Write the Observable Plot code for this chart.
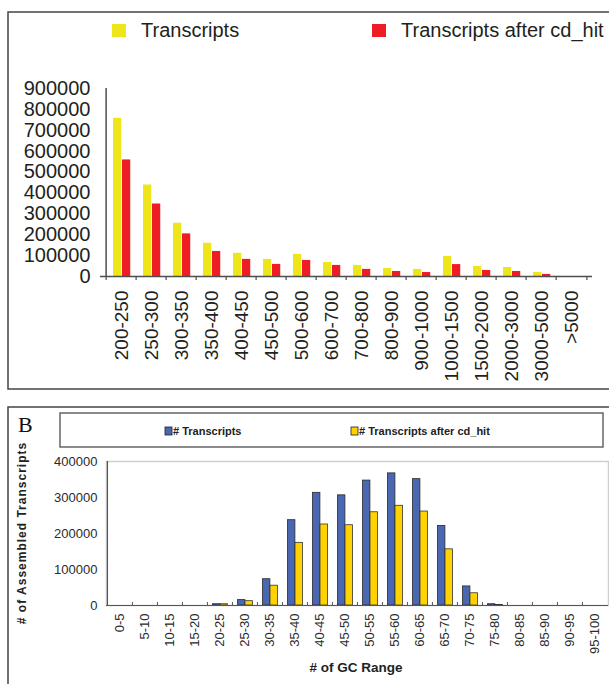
<!DOCTYPE html>
<html><head><meta charset="utf-8">
<script src="https://cdn.jsdelivr.net/npm/d3@7"></script>
<script src="https://cdn.jsdelivr.net/npm/@observablehq/plot@0.6"></script>
<style>
html,body{margin:0;padding:0;background:#fff;}
#page{position:relative;width:609px;height:684px;overflow:hidden;font-family:"Liberation Sans",Arial,sans-serif;}
#page > svg{position:absolute;left:0;}
</style></head><body><div id="page"></div>
<script>
// ---------- Data: panel A (transcript length distribution) ----------
const lengthRanges = ["200-250","250-300","300-350","350-400","400-450","450-500","500-600","600-700","700-800","800-900","900-1000","1000-1500","1500-2000","2000-3000","3000-5000",">5000"];
const transcriptsA = [757000, 438000, 255000, 159000, 111000, 82000, 106000, 67000, 53000, 38000, 34000, 96000, 48000, 43000, 19000, 0];
const cdhitA = [558000, 347000, 204000, 120000, 82000, 58000, 77000, 53000, 34000, 24000, 19000, 57000, 29000, 24000, 10000, 0];
const yTicksA = [0, 100000, 200000, 300000, 400000, 500000, 600000, 700000, 800000, 900000];

// ---------- Data: panel B (GC content distribution) ----------
const gcRanges = ["0-5","5-10","10-15","15-20","20-25","25-30","30-35","35-40","40-45","45-50","50-55","55-60","60-65","65-70","70-75","75-80","80-85","85-90","90-95","95-100"];
const transcriptsB = [0, 0, 0, 0, 3500, 15000, 73000, 237000, 313000, 306000, 347000, 367000, 351000, 221000, 53000, 3500, 0, 0, 0, 0];
const cdhitB = [0, 0, 0, 0, 3500, 12000, 55000, 174000, 225000, 223000, 259000, 277000, 261000, 156000, 34000, 1500, 0, 0, 0, 0];
const yTicksB = [0, 100000, 200000, 300000, 400000];

const page = document.getElementById("page");
const fmt = d3.format("d");

// ---------- Panel A ----------
const wA = 609, hA = 390, mlA = 100, mrA = 17, mtA = 88, mbA = 114;
const bandA = (wA - mlA - mrA) / lengthRanges.length;
const rowsA = lengthRanges.map((r, i) => ({range: r, t: transcriptsA[i], c: cdhitA[i]}));
const axisColA = "#4d4d4d";
const plotA = Plot.plot({
  width: wA, height: hA,
  marginLeft: mlA, marginRight: mrA, marginTop: mtA, marginBottom: mbA,
  style: {fontFamily: "'Liberation Sans', Arial, sans-serif", color: "#231F20", background: "transparent", overflow: "visible"},
  x: {type: "band", domain: lengthRanges, padding: 0},
  y: {domain: [0, 900000]},
  marks: [
    Plot.barY(rowsA, {x: "range", y: "t", fill: "#EEE61A", insetLeft: 7, insetRight: bandA - 16}),
    Plot.barY(rowsA, {x: "range", y: "c", fill: "#EE1C25", insetLeft: 16, insetRight: bandA - 25}),
    Plot.ruleY([0], {stroke: axisColA, strokeWidth: 1.5}),
    Plot.ruleX([lengthRanges[0]], {x: d => d, dx: -bandA / 2, y1: 0, y2: 900000, stroke: axisColA, strokeWidth: 1.5}),
    Plot.ruleX(lengthRanges, {x: d => d, dx: -bandA / 2, y1: 0, y2: 0, insetBottom: -4, stroke: axisColA, strokeWidth: 1.2}),
    Plot.ruleX([lengthRanges[lengthRanges.length - 1]], {x: d => d, dx: bandA / 2, y1: 0, y2: 0, insetBottom: -4, stroke: axisColA, strokeWidth: 1.2}),
    Plot.ruleY(yTicksA, {y: d => d, x1: lengthRanges[0], x2: lengthRanges[0], insetLeft: -4, insetRight: bandA, stroke: axisColA, strokeWidth: 1.2}),
    Plot.axisY({ticks: yTicksA, tickSize: 0, tickPadding: 10, tickFormat: fmt, fontSize: 20}),
    Plot.axisX({tickSize: 0, tickPadding: 14, tickRotate: -90, fontSize: 19})
  ]
});
plotA.style.top = "0px";
page.appendChild(plotA);

// ---------- Panel B ----------
const topB = 400;
const wB = 609, hB = 284, mlB = 106, mrB = 1, mtB = 61, mbB = 79;
const bandB = (wB - mlB - mrB) / gcRanges.length;
const rowsB = gcRanges.map((r, i) => ({range: r, t: transcriptsB[i], c: cdhitB[i]}));
const axisColB = "#555";
const plotB = Plot.plot({
  width: wB, height: hB,
  marginLeft: mlB, marginRight: mrB, marginTop: mtB, marginBottom: mbB,
  style: {fontFamily: "'Liberation Sans', Arial, sans-serif", color: "#2a2a2a", background: "transparent", overflow: "visible"},
  x: {type: "band", domain: gcRanges, padding: 0},
  y: {domain: [0, 400000]},
  marks: [
    Plot.frame({stroke: "#cfcfcf", strokeWidth: 1.5}),
    Plot.barY(rowsB, {x: "range", y: "t", fill: "#4A67B1", stroke: "#2a2a2a", strokeWidth: 0.8, insetLeft: 5.5, insetRight: bandB - 13}),
    Plot.barY(rowsB, {x: "range", y: "c", fill: "#FFD200", stroke: "#333", strokeWidth: 0.8, insetLeft: 13, insetRight: bandB - 20.5}),
    Plot.ruleY([0], {stroke: axisColB, strokeWidth: 1.2}),
    Plot.ruleX([gcRanges[0]], {x: d => d, dx: -bandB / 2, y1: 0, y2: 400000, stroke: axisColB, strokeWidth: 1.2}),
    Plot.ruleX(gcRanges.slice(1), {x: d => d, dx: -bandB / 2, y1: 0, y2: 0, insetTop: -3, stroke: axisColB}),
    Plot.ruleY(yTicksB.slice(1), {y: d => d, x1: gcRanges[0], x2: gcRanges[0], insetRight: bandB - 3, stroke: axisColB}),
    Plot.axisY({ticks: yTicksB, tickSize: 0, tickPadding: 9, tickFormat: fmt, fontSize: 13}),
    Plot.axisX({tickSize: 0, tickPadding: 8, tickRotate: -90, fontSize: 13})
  ]
});
plotB.style.top = topB + "px";
page.appendChild(plotB);

// ---------- Overlay: panel borders, legends, titles ----------
const ov = d3.select(page).append("svg")
  .attr("width", 609).attr("height", 684)
  .style("top", "0px").style("pointer-events", "none")
  .style("font-family", "'Liberation Sans', Arial, sans-serif");

ov.append("rect").attr("x", 8).attr("y", 12).attr("width", 720).attr("height", 377)
  .attr("fill", "none").attr("stroke", "#444").attr("stroke-width", 1.5);
ov.append("rect").attr("x", 8).attr("y", 407).attr("width", 720).attr("height", 400)
  .attr("fill", "none").attr("stroke", "#444").attr("stroke-width", 1.5);

// legend A
const legA = [
  {label: "Transcripts", color: "#EEE61A", x: 112},
  {label: "Transcripts after cd_hit", color: "#EE1C25", x: 372}
];
legA.forEach(d => {
  ov.append("rect").attr("x", d.x).attr("y", 24).attr("width", 14).attr("height", 13).attr("fill", d.color);
  ov.append("text").attr("x", d.x + 29).attr("y", 37).attr("font-size", 20).attr("fill", "#231F20").text(d.label);
});

// panel B letter
ov.append("text").attr("x", 18).attr("y", 432).attr("font-family", "'Liberation Serif', 'Times New Roman', serif")
  .attr("font-size", 22).attr("fill", "#111").text("B");

// legend B
ov.append("rect").attr("x", 60).attr("y", 413).attr("width", 543).attr("height", 34)
  .attr("fill", "none").attr("stroke", "#666").attr("stroke-width", 1.5);
const legB = [
  {label: "# Transcripts", color: "#4A67B1", x: 165},
  {label: "# Transcripts after cd_hit", color: "#FFD200", x: 351}
];
legB.forEach(d => {
  ov.append("rect").attr("x", d.x).attr("y", 427).attr("width", 7).attr("height", 8)
    .attr("fill", d.color).attr("stroke", "#222").attr("stroke-width", 0.8);
  ov.append("text").attr("x", d.x + 8).attr("y", 435).attr("font-size", 11).attr("font-weight", "bold")
    .attr("fill", "#222").text(d.label);
});

// axis titles B
ov.append("text").attr("transform", "translate(26,533) rotate(-90)").attr("text-anchor", "middle")
  .attr("font-size", 12).attr("font-weight", "bold").attr("letter-spacing", 1).attr("fill", "#222")
  .text("# of Assembled Transcripts");
ov.append("text").attr("x", 356).attr("y", 672).attr("text-anchor", "middle")
  .attr("font-size", 13.5).attr("font-weight", "bold").attr("fill", "#222").text("# of GC Range");
</script>
</body></html>
